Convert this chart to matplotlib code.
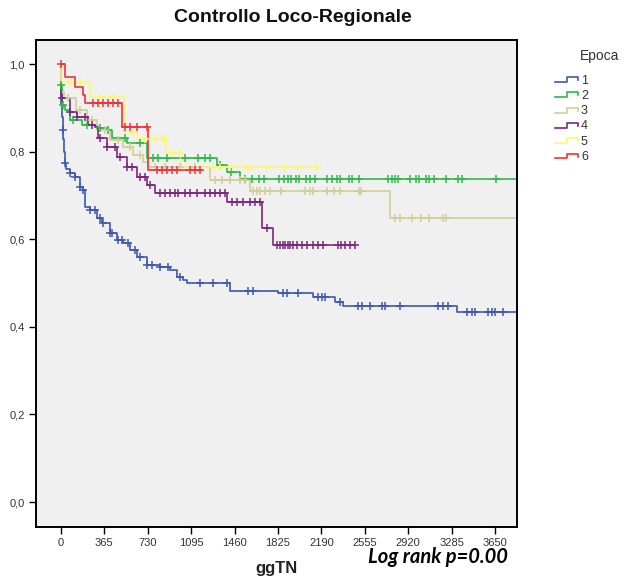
import matplotlib
matplotlib.use('Agg')
import matplotlib.pyplot as plt
import numpy as np
from matplotlib.lines import Line2D

plt.rcParams['font.family'] = ['Liberation Sans', 'DejaVu Sans']

# gruppi (Epoca) e colori SPSS
groups = ['1', '2', '3', '4', '5', '6']
colors = ['#3e58ac', '#2eb848', '#d3ce97', '#7c287d', '#fbf873', '#ef3338']

# Epoca 1
ev1_t = [3, 8, 13, 18, 25, 32, 40, 76, 118, 160, 185, 202, 244, 303, 345, 412, 471, 521, 580,
         639, 723, 833, 917, 976, 1026, 1060, 1421, 1825, 2119, 2304, 2372, 3330]
ev1_s = [0.91, 0.88, 0.85, 0.83, 0.80, 0.775, 0.76, 0.751, 0.742, 0.72, 0.712, 0.674, 0.667, 0.648,
         0.637, 0.614, 0.598, 0.591, 0.575, 0.559, 0.541, 0.537, 0.530, 0.514, 0.507, 0.50, 0.482,
         0.477, 0.468, 0.457, 0.447, 0.434]
cens1 = [17, 34, 76, 118, 160, 185, 244, 286, 328, 353, 412, 429, 479, 513, 563, 622, 664, 723, 765,
         833, 900, 1001, 1169, 1278, 1396, 1573, 1615, 1867, 1900, 1993, 2161, 2195, 2220, 2346,
         2498, 2531, 2599, 2700, 2725, 2851, 3171, 3213, 3255, 3415, 3457, 3482, 3591, 3625, 3650, 3717]
end1 = 3840

# Epoca 2
ev2_t = [2, 6, 30, 80, 180, 303, 385, 429, 555, 723, 1312, 1396, 1505]
ev2_s = [0.952, 0.906, 0.895, 0.872, 0.861, 0.854, 0.849, 0.831, 0.82, 0.785, 0.769, 0.753, 0.737]
cens2 = [4, 17, 101, 219, 328, 395, 538, 664, 774, 816, 891, 1043, 1152, 1211, 1253, 1337, 1430,
         1547, 1606, 1665, 1707, 1833, 1876, 1909, 1934, 1976, 2002, 2061, 2094, 2136, 2237, 2279,
         2321, 2347, 2422, 2448, 2506, 2750, 2784, 2809, 2834, 2935, 2986, 3011, 3070, 3095, 3137,
         3238, 3339, 3373, 3659]
end2 = 3840

# Epoca 3
ev3_t = [2, 25, 130, 219, 303, 412, 521, 605, 690, 733, 1253, 1593, 2767]
ev3_s = [0.936, 0.922, 0.895, 0.872, 0.849, 0.826, 0.81, 0.792, 0.776, 0.765, 0.735, 0.710, 0.648]
cens3 = [59, 160, 261, 370, 479, 580, 664, 791, 875, 1001, 1127, 1295, 1354, 1421, 1505, 1547,
         1615, 1648, 1674, 1716, 1758, 1850, 2052, 2094, 2119, 2237, 2296, 2347, 2506, 2523,
         2809, 2851, 2952, 3028, 3095, 3213, 3238]
end3 = 3840

# Epoca 4
ev4_t = [3, 76, 135, 227, 286, 311, 387, 471, 555, 639, 723, 790, 1396, 1690, 1783]
ev4_s = [0.922, 0.89, 0.879, 0.861, 0.856, 0.831, 0.81, 0.788, 0.765, 0.742, 0.724, 0.705,
         0.685, 0.625, 0.588]
cens4 = [8, 76, 135, 202, 261, 328, 387, 454, 496, 555, 597, 664, 706, 749, 833, 875, 917, 959,
         984, 1043, 1085, 1144, 1211, 1253, 1295, 1337, 1379, 1438, 1480, 1531, 1590, 1632, 1674,
         1733, 1817, 1842, 1867, 1884, 1909, 1926, 1951, 1985, 2027, 2069, 2119, 2161, 2204, 2330,
         2355, 2389, 2431, 2473]
end4 = 2473

# Epoca 5
ev5_t = [2, 244, 530, 640, 880, 1010]
ev5_s = [0.959, 0.925, 0.845, 0.828, 0.797, 0.765]
cens5 = [76, 160, 328, 437, 606, 706, 791, 849, 875, 942, 1001, 1270, 1337, 1421, 1564, 1590,
         1733, 1884, 1993, 2150]
end5 = 2150

# Epoca 6
ev6_t = [34, 118, 185, 202, 513, 735]
ev6_s = [0.970, 0.947, 0.929, 0.911, 0.856, 0.758]
cens6 = [0, 269, 311, 353, 395, 437, 479, 538, 580, 639, 723, 807, 849, 891, 934, 976, 1085,
         1127, 1169]
end6 = 1180

curves = [(ev1_t, ev1_s, cens1, end1), (ev2_t, ev2_s, cens2, end2), (ev3_t, ev3_s, cens3, end3),
          (ev4_t, ev4_s, cens4, end4), (ev5_t, ev5_s, cens5, end5), (ev6_t, ev6_s, cens6, end6)]

xticks = [0, 365, 730, 1095, 1460, 1825, 2190, 2555, 2920, 3285, 3650]
yticks = [0.0, 0.2, 0.4, 0.6, 0.8, 1.0]
ylabels = ['0,0', '0,2', '0,4', '0,6', '0,8', '1,0']

fig = plt.figure(figsize=(6.25, 5.79), dpi=100)
ax = fig.add_axes([36 / 625, 1 - 527 / 579, 481 / 625, 487 / 579])
ax.set_facecolor('#f0f0f0')

for (et, es, ct, end), col in zip(curves, colors):
    t = np.r_[0, et, end]
    s = np.r_[1.0, es, es[-1]]
    ax.step(t, s, where='post', color=col, lw=1.2, zorder=2)
    # censurati
    idx = np.searchsorted(et, ct, side='right')
    s_all = np.r_[1.0, es]
    ax.plot(ct, s_all[idx], ls='none', marker='+', ms=6, mew=1.1, color=col, zorder=3)

ax.set_xlim(-210, 3835)
ax.set_ylim(-0.057, 1.055)
ax.set_xticks(xticks)
ax.set_xticklabels([str(v) for v in xticks])
ax.set_yticks(yticks)
ax.set_yticklabels(ylabels)
ax.tick_params(axis='both', direction='out', length=5, width=1, labelsize=8,
               labelcolor='#333333', pad=3)
ax.tick_params(axis='x', pad=3)
for sp in ax.spines.values():
    sp.set_linewidth(1.4)

fig.text(293 / 625, 1 - 18 / 579, 'Controllo Loco-Regionale', ha='center', va='center',
         fontsize=14, fontweight='bold', color='#111111')
fig.text(277 / 625, 1 - 568 / 579, 'ggTN', ha='center', va='center', fontsize=12,
         fontweight='bold', color='#222222')
fig.text(508 / 625, 1 - 557 / 579, 'Log rank p=0.00', ha='right', va='center', fontsize=14.5,
         fontweight='bold', style='italic', family=['Lato', 'DejaVu Sans'], color='black')

# legenda
fig.text(580 / 625, 1 - 56 / 579, 'Epoca', ha='left', va='center', fontsize=10, color='#333333')
for i, (g, col) in enumerate(zip(groups, colors)):
    yb = 82 + i * 15.3
    xs = np.array([555, 566.7, 566.7, 578.3, 578.3]) / 625
    ys = 1 - np.array([yb, yb, yb - 5, yb - 5, yb - 2]) / 579
    fig.add_artist(Line2D(xs, ys, color=col, lw=1.2))
    fig.text(581 / 625, 1 - (yb - 1.5) / 579, g, ha='left', va='center', fontsize=9,
             color='#333333')

fig.savefig('out.png', dpi=100)
